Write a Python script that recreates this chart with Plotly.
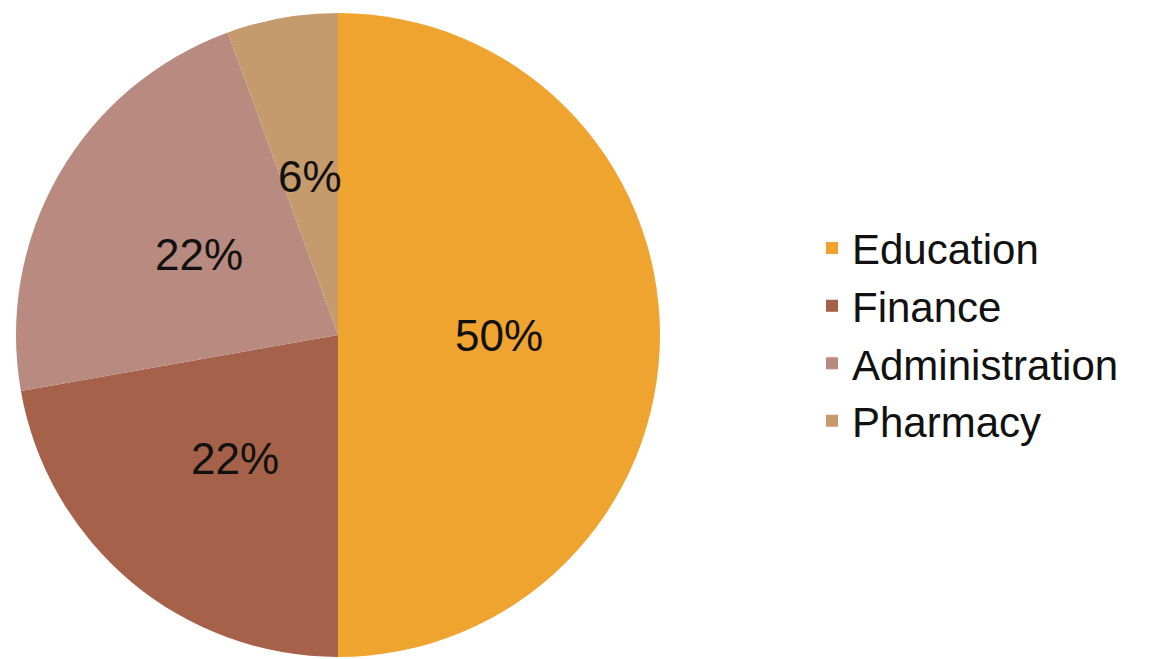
import math
import plotly.graph_objects as go

# Staff share by department
departments = ["Education", "Finance", "Administration", "Pharmacy"]
staff_counts = [9, 4, 4, 1]
slice_colors = ["#F0A430", "#A5614A", "#B88A80", "#C59A6C"]

W, H = 1158, 659
FONT = "Liberation Sans, Arial, sans-serif"

# Pie placement in pixels (left, right, top, bottom of the domain box)
px_left, px_right, px_top, px_bottom = 16, 660, 12, 658
dom_x = [px_left / W, px_right / W]
dom_y = [1 - px_bottom / H, 1 - px_top / H]

fig = go.Figure(
    go.Pie(
        labels=departments,
        values=staff_counts,
        sort=False,
        direction="clockwise",
        rotation=0,
        marker=dict(colors=slice_colors, line=dict(width=0)),
        textinfo="none",
        hoverinfo="label+percent",
        domain=dict(x=dom_x, y=dom_y),
    )
)

# Percentage labels placed halfway out along each slice's mid-angle
cx = (px_left + px_right) / 2
cy = (px_top + px_bottom) / 2
radius = min(px_right - px_left, px_bottom - px_top) / 2
label_r = 0.5 * radius
total = sum(staff_counts)
cum = 0
for v in staff_counts:
    frac = v / total
    mid = (cum + frac / 2) * 2 * math.pi  # clockwise from 12 o'clock
    cum += frac
    lx = cx + label_r * math.sin(mid)
    ly = cy - label_r * math.cos(mid)
    fig.add_annotation(
        x=lx / W,
        y=1 - ly / H,
        xref="paper",
        yref="paper",
        text=f"{round(frac * 100)}%",
        showarrow=False,
        font=dict(family=FONT, size=44, color="#111111"),
        xanchor="center",
        yanchor="middle",
    )

fig.update_layout(
    width=W,
    height=H,
    margin=dict(l=0, r=0, t=0, b=0),
    paper_bgcolor="white",
    plot_bgcolor="white",
    legend=dict(
        x=812 / W,
        xanchor="left",
        y=0.492,
        yanchor="middle",
        font=dict(family=FONT, size=42, color="#111111"),
        bgcolor="rgba(0,0,0,0)",
    ),
)

fig.write_html("out.html")
